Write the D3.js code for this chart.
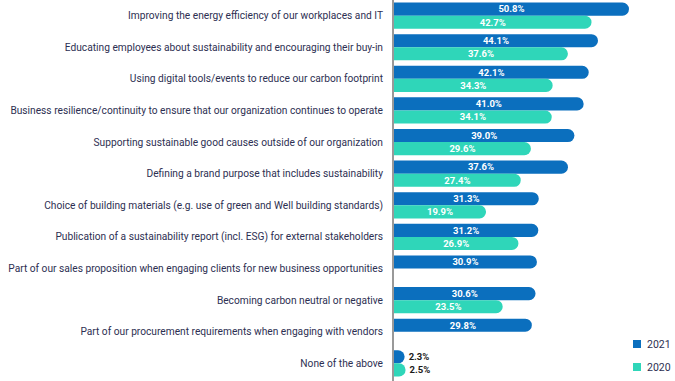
<!DOCTYPE html>
<html lang="en">
<head>
  <meta charset="UTF-8">
  <title>Sustainability actions 2021 vs 2020</title>
  <script src="https://d3js.org/d3.v7.min.js"></script>
  <style>
    body {
      margin: 0;
      background: #fff;
      font-family: Roboto, "Noto Sans", Arial, sans-serif;
    }
  </style>
</head>
<body>
  <div id="chart"></div>

  <script>
    const categories = [
      "Improving the energy efficiency of our workplaces and IT",
      "Educating employees about sustainability and encouraging their buy-in",
      "Using digital tools/events to reduce our carbon footprint",
      "Business resilience/continuity to ensure that our organization continues to operate",
      "Supporting sustainable good causes outside of our organization",
      "Defining a brand purpose that includes sustainability",
      "Choice of building materials (e.g. use of green and Well building standards)",
      "Publication of a sustainability report (incl. ESG) for external stakeholders",
      "Part of our sales proposition when engaging clients for new business opportunities",
      "Becoming carbon neutral or negative",
      "Part of our procurement requirements when engaging with vendors",
      "None of the above"
    ];
    const values2021 = [50.8, 44.1, 42.1, 41.0, 39.0, 37.6, 31.3, 31.2, 30.9, 30.6, 29.8, 2.3];
    const values2020 = [42.7, 37.6, 34.3, 34.1, 29.6, 27.4, 19.9, 26.9, null, 23.5, null, 2.5];
    const seriesNames = ["2021", "2020"];
    const colors = ["#0b6fbe", "#2fd6b9"];

    const width = 675;
    const height = 381;
    const margin = {top: 0, right: 40, bottom: 0, left: 394};

    const svg = d3.select("#chart")
      .append("svg")
      .attr("width", width)
      .attr("height", height);

    const x = d3.scaleLinear()
      .domain([0, 50.8])
      .range([margin.left, 629]);

    const y = d3.scaleBand()
      .domain(categories)
      .range([0, 379])
      .paddingInner(0.17)
      .paddingOuter(0.08);

    const sub = d3.scaleBand()
      .domain(seriesNames)
      .range([0, y.bandwidth()]);

    // category labels
    svg.append("g")
      .selectAll("text")
      .data(categories)
      .join("text")
      .attr("x", 383)
      .attr("y", d => y(d) + y.bandwidth() / 2)
      .attr("dy", "0.35em")
      .attr("text-anchor", "end")
      .attr("font-size", 10.2)
      .attr("fill", "#2d2f52")
      .text(d => d);

    const rows = categories.map((c, i) => [
      {cat: c, s: "2021", v: values2021[i], color: colors[0]},
      {cat: c, s: "2020", v: values2020[i], color: colors[1]}
    ]).flat().filter(d => d.v !== null);

    // bars with rounded right end
    function barPath(d) {
      const x0 = x(0), x1 = x(d.v);
      const y0 = y(d.cat) + sub(d.s), h = sub.bandwidth();
      const r = Math.min(h / 2, x1 - x0);
      return `M${x0},${y0}H${x1 - r}A${r},${h / 2} 0 0 1 ${x1},${y0 + h / 2}` +
        `A${r},${h / 2} 0 0 1 ${x1 - r},${y0 + h}H${x0}Z`;
    }

    svg.append("g")
      .selectAll("path")
      .data(rows)
      .join("path")
      .attr("d", barPath)
      .attr("fill", d => d.color);

    // value labels
    svg.append("g")
      .selectAll("text")
      .data(rows)
      .join("text")
      .attr("x", d => d.v < 10 ? x(d.v) + 4 : (x(0) + x(d.v)) / 2)
      .attr("y", d => y(d.cat) + sub(d.s) + sub.bandwidth() / 2)
      .attr("dy", "0.35em")
      .attr("text-anchor", d => d.v < 10 ? "start" : "middle")
      .attr("font-size", 9.5)
      .attr("font-weight", "bold")
      .attr("fill", d => d.v < 10 ? "#1a1a1a" : "#fff")
      .text(d => d.v.toFixed(1) + "%");

    // axis line
    svg.append("line")
      .attr("x1", 393).attr("x2", 393)
      .attr("y1", 0).attr("y2", height)
      .attr("stroke", "#777")
      .attr("stroke-width", 1.5);

    // legend
    const legend = svg.append("g")
      .selectAll("g")
      .data(seriesNames)
      .join("g")
      .attr("transform", (d, i) => `translate(633,${340 + i * 23})`);

    legend.append("rect")
      .attr("width", 8)
      .attr("height", 8)
      .attr("fill", (d, i) => colors[i]);

    legend.append("text")
      .attr("x", 14)
      .attr("y", 4)
      .attr("dy", "0.35em")
      .attr("font-size", 10.5)
      .attr("fill", "#2d2f52")
      .text(d => d);
  </script>
</body>
</html>
